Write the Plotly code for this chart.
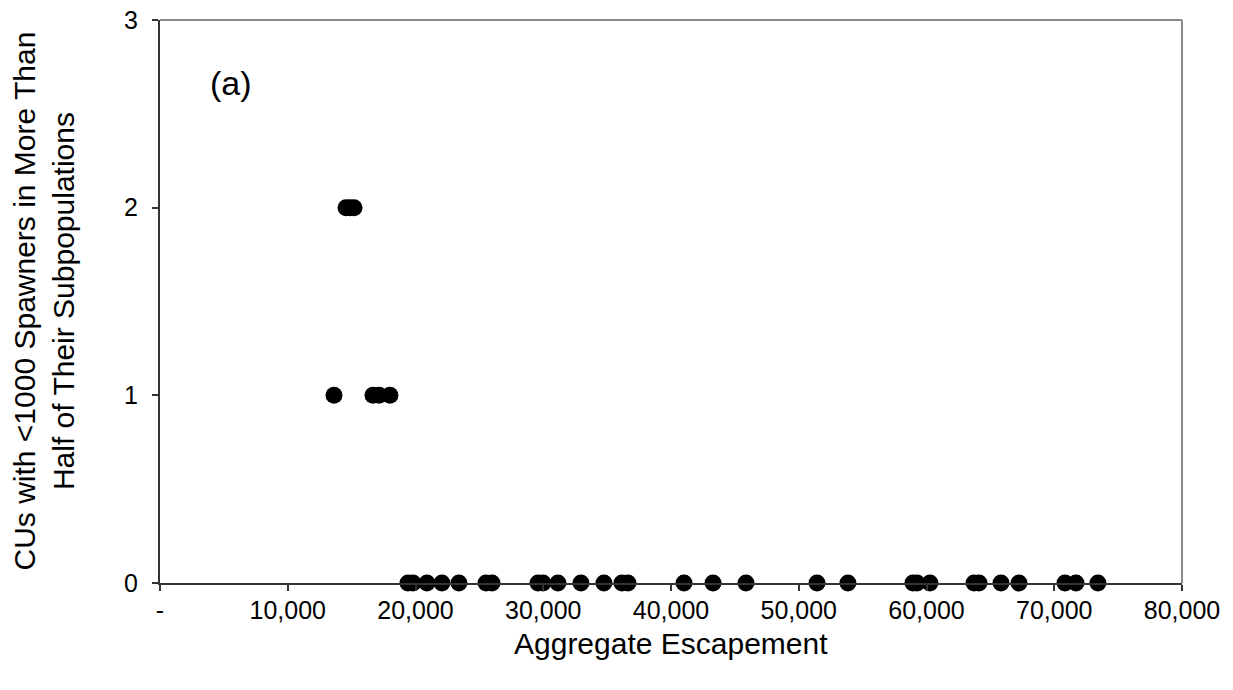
import plotly.graph_objects as go

# Data
esc_two = [14560, 14870, 15190]
cus_two = [2, 2, 2]
esc_one = [13620, 16670, 17150, 18000]
cus_one = [1, 1, 1, 1]
esc_zero = [19410, 19800, 20900, 22070, 23400, 25520, 25990, 29590, 29980, 31150,
            32950, 34750, 36160, 36630, 41020, 43290, 45870, 51430, 53850, 58940,
            59260, 60270, 63720, 64110, 65830, 67240, 70840, 71700, 73420]
cus_zero = [0] * len(esc_zero)

x_ticks = [0, 10000, 20000, 30000, 40000, 50000, 60000, 70000, 80000]
x_tick_text = ["-", "10,000", "20,000", "30,000", "40,000", "50,000", "60,000", "70,000", "80,000"]
y_ticks = [0, 1, 2, 3]

x_all = esc_one + esc_two + esc_zero
y_all = cus_one + cus_two + cus_zero

FONT = "Liberation Sans, Arial, sans-serif"

fig = go.Figure()
fig.add_trace(go.Scatter(
    x=x_all, y=y_all, mode="markers",
    marker=dict(color="black", size=17, line=dict(width=0)),
    showlegend=False, cliponaxis=False,
))

fig.update_layout(
    width=1233, height=690,
    margin=dict(l=160, r=51, t=20, b=107, autoexpand=False),
    paper_bgcolor="white", plot_bgcolor="white",
    font=dict(family=FONT, color="black", size=25),
    xaxis=dict(
        range=[0, 80000], tickvals=x_ticks, ticktext=x_tick_text, automargin=False,
        showgrid=False, zeroline=False, showline=True, linecolor="#333333", linewidth=2,
        ticks="outside", ticklen=6, tickcolor="#333333", tickwidth=1.5,
        tickfont=dict(size=25, family=FONT), ticklabelstandoff=-2,
    ),
    yaxis=dict(
        range=[0, 3], tickvals=y_ticks, automargin=False,
        showgrid=False, zeroline=False, showline=True, linecolor="#333333", linewidth=2,
        ticks="outside", ticklen=6, tickcolor="#333333", tickwidth=1.5,
        tickfont=dict(size=25, family=FONT), ticklabelstandoff=9,
        ticklabeloverflow="allow",
    ),
    shapes=[
        dict(type="line", xref="paper", yref="paper", x0=0, x1=1, y0=1, y1=1,
             line=dict(color="#888888", width=2)),
        dict(type="line", xref="paper", yref="paper", x0=1, x1=1, y0=0, y1=1,
             line=dict(color="#888888", width=2)),
    ],
    annotations=[
        dict(text="CUs with <1000 Spawners in More Than<br>Half of Their Subpopulations",
             xref="paper", yref="paper", x=0, y=0.5, xanchor="center", yanchor="middle",
             xshift=-117, textangle=-90, showarrow=False,
             font=dict(size=30, family=FONT)),
        dict(text="Aggregate Escapement",
             xref="paper", yref="paper", x=0.5, y=0, xanchor="center", yanchor="middle",
             yshift=-60, showarrow=False, font=dict(size=30, family=FONT)),
        dict(text="(a)", xref="paper", yref="paper", x=0, y=1, xanchor="left", yanchor="middle",
             xshift=48, yshift=-63, showarrow=False, font=dict(size=34, family=FONT)),
    ],
)

fig.write_html("out.html", config={"displayModeBar": False},
               post_script="document.body.style.margin='0';")
